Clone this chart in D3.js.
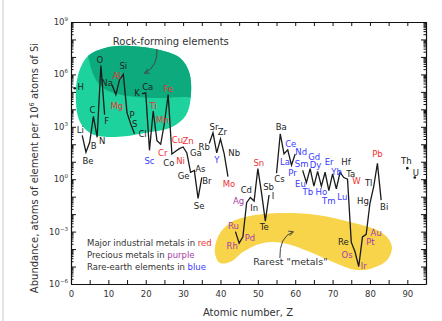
<!DOCTYPE html>
<html>
<head>
<meta charset="utf-8">
<script src="https://cdn.jsdelivr.net/npm/d3@7"></script>
<style>
  body { margin: 0; background: #fff; }
  svg { display: block; font-family: "DejaVu Sans", Verdana, sans-serif; }
</style>
</head>
<body>
<svg id="chart" width="442" height="321"></svg>
<script>
// Abundance of the elements in Earth's upper crust, atoms per 10^6 atoms of Si
const atomicNumbers = [1, 3, 4, 5, 6, 7, 8, 9, 11, 12, 13, 14, 15, 16, 17,
  19, 20, 21, 22, 23, 24, 25, 26, 27, 28, 29, 30, 31, 32, 33, 34, 35,
  37, 38, 39, 40, 41, 42, 44, 45, 46, 47, 48, 49, 50, 51, 52, 53,
  55, 56, 57, 58, 59, 60, 62, 63, 64, 65, 66, 67, 68, 69, 70, 71, 72, 73, 74,
  75, 76, 77, 78, 79, 80, 81, 82, 83, 90, 92];
const symbols = ["H", "Li", "Be", "B", "C", "N", "O", "F", "Na", "Mg", "Al", "Si", "P", "S", "Cl",
  "K", "Ca", "Sc", "Ti", "V", "Cr", "Mn", "Fe", "Co", "Ni", "Cu", "Zn", "Ga", "Ge", "As", "Se", "Br",
  "Rb", "Sr", "Y", "Zr", "Nb", "Mo", "Ru", "Rh", "Pd", "Ag", "Cd", "In", "Sn", "Sb", "Te", "I",
  "Cs", "Ba", "La", "Ce", "Pr", "Nd", "Sm", "Eu", "Gd", "Tb", "Dy", "Ho", "Er", "Tm", "Yb", "Lu", "Hf", "Ta", "W",
  "Re", "Os", "Ir", "Pt", "Au", "Hg", "Tl", "Pb", "Bi", "Th", "U"];
const abundances = [1.6e5, 320, 35, 130, 4000, 250, 3.2e6, 5000, 2.5e5, 7.0e4, 5.0e5, 1.0e6, 6300, 1400, 400,
  8.0e4, 8.5e4, 45, 8000, 160, 100, 1600, 7.0e4, 28, 40, 56, 70, 32, 2.5, 3.2, 0.08, 1.25,
  110, 450, 32, 200, 28, 1.4, 1.0e-3, 2.2e-4, 5.0e-4, 0.045, 0.09, 0.056, 4.0, 0.16, 0.004, 0.125,
  2.2, 400, 28, 48, 6.3, 28, 3.2, 0.63, 4.0, 0.4, 2.8, 0.4, 2.5, 0.22, 2.0, 0.28, 2.5, 1.25, 1.0,
  2.5e-4, 7.0e-5, 1.0e-5, 5.0e-4, 7.0e-4, 0.042, 0.37, 8.0, 0.063, 4.3, 1.25];

const industrialMetals = ["Mg", "Al", "Ti", "Cr", "Mn", "Fe", "Ni", "Cu", "Zn", "Mo", "Sn", "W", "Pb"];
const preciousMetals = ["Ru", "Rh", "Pd", "Ag", "Os", "Ir", "Pt", "Au"];
const rareEarths = ["Sc", "Y", "La", "Ce", "Pr", "Nd", "Sm", "Eu", "Gd", "Tb", "Dy", "Ho", "Er", "Tm", "Yb", "Lu"];
const unlabeled = ["V"];

const xTickValues = [0, 10, 20, 30, 40, 50, 60, 70, 80, 90];
const yLabelExponents = [-6, -3, 0, 3, 6, 9];

// label placement relative to each point (px)
const labelOffset = {
  H: [6, -1], Li: [-2, -5], Be: [2, 9], B: [4, 4], C: [-1, -6], N: [5, 4], O: [-1, -6], F: [2, 6],
  Na: [-5, -2], Mg: [1, 11], Al: [-3, -4], Si: [0, -8], P: [5, 2], S: [4, 0], Cl: [8, 0],
  K: [-5, -1], Ca: [2, -6], Sc: [0, 11], Ti: [0, -5], Cr: [2, 9], Mn: [-2, -3], Fe: [0, -6],
  Co: [-3, 9], Ni: [5, 10], Cu: [-2, -9], Zn: [5, -6], Ga: [9, 0], Ge: [-7, 4], As: [6, -1],
  Se: [1, 8], Br: [5, 3], Rb: [-5, 3], Sr: [1, -6], Y: [0, 7], Zr: [2, -7], Nb: [10, -1], Mo: [1, 7],
  Ru: [-2, -6], Rh: [-7, 3], Pd: [7, 1], Ag: [-8, -2], Cd: [-4, -7], In: [0, 7], Sn: [1, -6],
  Sb: [7, -6], Te: [-1, 6], I: [4, 1], Cs: [3, 6], Ba: [1, -7], La: [1, 8], Ce: [3, -6], Pr: [1, 8],
  Nd: [6, -2], Sm: [-1, -6], Eu: [-6, 1], Gd: [4, -12], Tb: [-6, 6], Dy: [-2, -6], Ho: [0, 6],
  Er: [4, -10], Tm: [0, 10], Yb: [4, -2], Lu: [6, 8], Hf: [6, -10], Ta: [7, -4], W: [9, 2],
  Re: [-8, 0], Os: [-8, 3], Ir: [5, -1], Pt: [8, 5], Au: [10, -1], Hg: [-7, -2], Tl: [-5, -4],
  Pb: [0, -9], Bi: [3, 7], Th: [-1, -7], U: [1, -5]
};

const RED = "#f03030", PURPLE = "#a63ca6", BLUE = "#3a3aff", INK = "#222";

const svg = d3.select("#chart");
const plot = { left: 71, right: 426, top: 22, bottom: 284 };

const x = d3.scaleLinear().domain([0, 95]).range([plot.left, plot.right]);
const y = d3.scaleLog().domain([1e-6, 1e9]).range([plot.bottom, plot.top]);
const pt = ([z, e]) => [x(z), y(Math.pow(10, e))];

// thin frame line at the left edge of the figure
svg.append("line").attr("x1", 3).attr("x2", 3).attr("y1", 0).attr("y2", 321)
  .attr("stroke", "#c8c8c8").attr("stroke-width", 1);

// ---- highlighted regions ----
const blob = d3.line().curve(d3.curveCatmullRomClosed.alpha(0.5));

const rockOutline = [[1.9, 5.97], [4.55, 7.05], [9.1, 7.51], [15.8, 7.63], [23.8, 7.40], [29.2, 6.94],
  [31.6, 6.14], [32.1, 4.82], [30.8, 3.68], [27.0, 2.99], [19.8, 2.65], [11.8, 2.42],
  [5.6, 2.59], [2.4, 3.28], [1.3, 4.53]].map(pt);
const rockCore = [[3.5, 7.97], [34.5, 7.97], [34.5, 4.65], [31.0, 4.71], [21.9, 4.65], [12.3, 4.88],
  [8.6, 5.22], [6.4, 5.79], [4.55, 7.05], [4.0, 7.68]].map(pt);
const rarestOutline = [[39.3, -3.31], [42.5, -2.51], [47.9, -2.11], [56.7, -1.94], [65.8, -2.05],
  [74.7, -2.45], [81.9, -2.91], [84.8, -3.37], [85.9, -3.94], [84.6, -4.63], [80.8, -5.08],
  [76.5, -5.20], [70.1, -4.74], [64.0, -4.17], [56.7, -3.65], [51.4, -3.65], [46.0, -4.17],
  [43.1, -4.68], [39.9, -4.80], [38.5, -4.22]].map(pt);

svg.append("clipPath").attr("id", "rockClip").append("path").attr("d", blob(rockOutline));
svg.append("path").attr("d", blob(rockOutline)).attr("fill", "#1ed29e");
svg.append("path").attr("d", blob(rockCore))
  .attr("clip-path", "url(#rockClip)").attr("fill", "#0caa7c");
svg.append("path").attr("d", blob(rarestOutline)).attr("fill", "#f8d44a");

// ---- axes ----
const axisG = svg.append("g");
const xMinor = d3.range(0, 96, 5);

axisG.append("g").attr("transform", `translate(0,${plot.bottom})`)
  .call(d3.axisBottom(x).tickValues(xMinor).tickSizeInner(-4).tickSizeOuter(0).tickFormat(""));
axisG.append("g").attr("transform", `translate(0,${plot.bottom})`)
  .call(d3.axisBottom(x).tickValues(xTickValues).tickSize(0).tickPadding(7).tickFormat(d3.format("d")))
  .call(g => g.select(".domain").remove());
axisG.append("g").attr("transform", `translate(0,${plot.top})`)
  .call(d3.axisTop(x).tickValues(xMinor).tickSizeInner(-4).tickSizeOuter(0).tickFormat(""));

const decades = d3.range(-6, 10).map(e => Math.pow(10, e));
const minorLog = [];
d3.range(-6, 9).forEach(e => { for (let m = 2; m <= 9; m++) minorLog.push(m * Math.pow(10, e)); });

[[plot.left, d3.axisLeft], [plot.right, d3.axisRight]].forEach(([px, ax]) => {
  axisG.append("g").attr("transform", `translate(${px},0)`)
    .call(ax(y).tickValues(decades).tickSizeInner(-5).tickSizeOuter(0).tickFormat(""));
  axisG.append("g").attr("transform", `translate(${px},0)`)
    .call(ax(y).tickValues(minorLog).tickSizeInner(-2.5).tickSizeOuter(0).tickFormat(""))
    .call(g => g.select(".domain").remove());
});
axisG.selectAll(".domain").attr("stroke", "#111").attr("stroke-width", 1.2);
axisG.selectAll(".tick line").attr("stroke", "#111").attr("stroke-width", 1);
axisG.selectAll(".tick text").attr("font-size", 8.5).attr("fill", "#333")
  .attr("font-family", "DejaVu Sans, sans-serif");

// power-of-ten labels on the y axis
const yLab = svg.append("g").attr("font-size", 8.5).attr("fill", "#333");
yLabelExponents.forEach(e => {
  const t = yLab.append("text").attr("x", 68).attr("y", y(Math.pow(10, e)) + 3)
    .attr("text-anchor", "end");
  t.append("tspan").text("10");
  t.append("tspan").attr("font-size", 5.5).attr("dy", -4).text(String(e).replace("-", "\u2212"));
});

// axis titles
svg.append("text").attr("x", 248).attr("y", 316).attr("text-anchor", "middle")
  .attr("font-size", 10).attr("fill", "#333").text("Atomic number, Z");
const yt = svg.append("text").attr("transform", "translate(38,168) rotate(-90)")
  .attr("text-anchor", "middle").attr("font-size", 10).attr("fill", "#333");
yt.append("tspan").text("Abundance, atoms of element per 10");
yt.append("tspan").attr("font-size", 6.5).attr("dy", -4).text("6");
yt.append("tspan").attr("dy", 4).text(" atoms of Si");

// ---- abundance curve ----
const points = atomicNumbers.map((z, i) => ({ z, sym: symbols[i], v: abundances[i] }));
const segments = [];
points.forEach((p, i) => {
  if (i === 0 || p.z !== points[i - 1].z + 1) segments.push([]);
  segments[segments.length - 1].push(p);
});

const line = d3.line().x(d => x(d.z)).y(d => y(d.v));
svg.append("g").selectAll("path").data(segments.filter(s => s.length > 1)).join("path")
  .attr("d", line).attr("fill", "none").attr("stroke", "#1a1a1a")
  .attr("stroke-width", 1.3).attr("stroke-linejoin", "miter");
svg.append("g").selectAll("circle").data(segments.filter(s => s.length === 1).map(s => s[0])).join("circle")
  .attr("cx", d => x(d.z)).attr("cy", d => y(d.v)).attr("r", 1.3).attr("fill", "#1a1a1a");

const labelColor = s => industrialMetals.includes(s) ? RED
  : preciousMetals.includes(s) ? PURPLE
  : rareEarths.includes(s) ? BLUE : INK;

svg.append("g").attr("font-size", 8.5).attr("text-anchor", "middle")
  .selectAll("text").data(points.filter(p => !unlabeled.includes(p.sym))).join("text")
  .attr("x", d => x(d.z) + labelOffset[d.sym][0])
  .attr("y", d => y(d.v) + labelOffset[d.sym][1])
  .attr("dominant-baseline", "central")
  .attr("fill", d => labelColor(d.sym))
  .text(d => d.sym);

// ---- annotations ----
svg.append("defs").append("marker").attr("id", "head").attr("viewBox", "0 0 10 10")
  .attr("refX", 8).attr("refY", 5).attr("markerWidth", 6).attr("markerHeight", 6)
  .attr("orient", "auto")
  .append("path").attr("d", "M1,1 L9,5 L1,9").attr("fill", "none").attr("stroke", "#444").attr("stroke-width", 1.4);

const arrow = (a, c, b) => {
  const [p0, p1, p2] = [a, c, b].map(pt);
  svg.append("path").attr("d", `M${p0[0]},${p0[1]} Q${p1[0]},${p1[1]} ${p2[0]},${p2[1]}`)
    .attr("fill", "none").attr("stroke", "#444").attr("stroke-width", 1)
    .attr("marker-end", "url(#head)");
};
arrow([23.0, 7.45], [23.3, 6.48], [19.8, 6.08]);
arrow([55.9, -4.51], [55.7, -3.31], [59.4, -3.02]);

const rockPos = pt([11.2, 7.86]);
svg.append("text").attr("x", rockPos[0]).attr("y", rockPos[1]).attr("dominant-baseline", "central")
  .attr("font-size", 10).attr("fill", "#333").text("Rock-forming elements");

const rarePos = pt([58.7, -4.74]);
svg.append("text").attr("x", rarePos[0]).attr("y", rarePos[1]).attr("dominant-baseline", "central")
  .attr("text-anchor", "middle").attr("font-size", 9.5).attr("fill", "#333").text("Rarest \"metals\"");

const legendPos = pt([4.3, -3.65]);
const legend = [
  ["Major industrial metals in ", "red", RED],
  ["Precious metals in ", "purple", PURPLE],
  ["Rare-earth elements in ", "blue", BLUE]
];
legend.forEach(([txt, word, col], i) => {
  const t = svg.append("text").attr("x", legendPos[0]).attr("y", legendPos[1] + i * 12)
    .attr("dominant-baseline", "central").attr("font-size", 8.5).attr("fill", "#333");
  t.append("tspan").text(txt);
  t.append("tspan").attr("fill", col).text(word);
});
</script>
</body>
</html>
